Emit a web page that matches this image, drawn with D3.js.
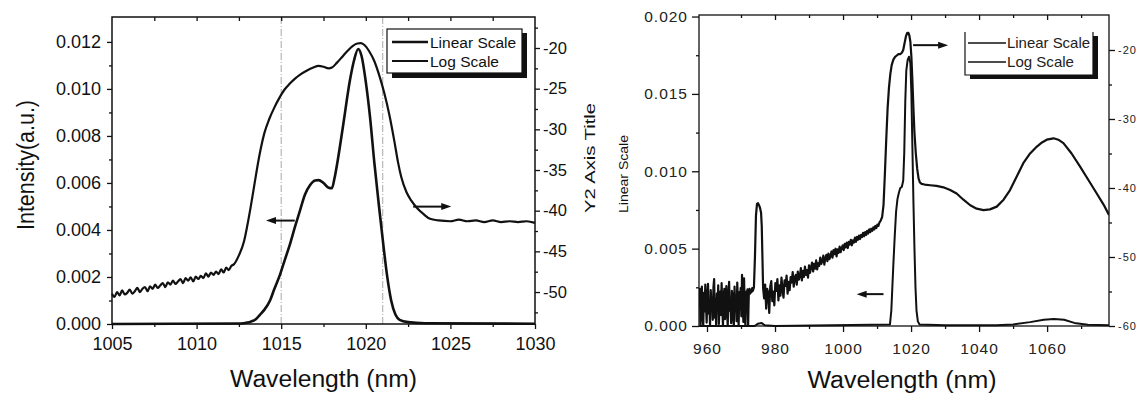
<!DOCTYPE html>
<html>
<head>
<meta charset="utf-8">
<script src="https://cdn.jsdelivr.net/npm/d3@7"></script>
<style>
body{margin:0;background:#fff}
svg{display:block}
</style>
</head>
<body>
<svg width="1138" height="396"></svg>
<script>
// ---- data (wavelength nm, value) ----

// left plot, linear intensity (left axis)
const leftLinear = [[1005,0],[1012.6,0.00002],[1013.0,0.00006],[1013.2,0.0001],[1013.5,0.0002],[1013.75,0.0004],
  [1014.0,0.0006],[1014.34,0.0010],[1014.6,0.0015],[1014.93,0.0021],[1015.2,0.0027],[1015.52,0.0034],[1015.8,0.0041],
  [1016.1,0.0048],[1016.4,0.0055],[1016.7,0.0059],[1017.0,0.0061],[1017.2,0.00612],[1017.5,0.0060],[1017.8,0.0058],
  [1018.0,0.00578],[1018.15,0.0062],[1018.35,0.0070],[1018.67,0.0085],[1019.07,0.0104],[1019.3,0.0112],[1019.55,0.0117],
  [1019.75,0.0114],[1020.0,0.0103],[1020.25,0.0088],[1020.5,0.0069],[1020.75,0.0052],[1021.0,0.0036],[1021.25,0.0021],
  [1021.5,0.0010],[1021.75,0.0004],[1022.0,0.00018],[1022.5,0.00008],[1023.5,0.00003],[1030,0.00001]];

// left plot, log scale (right axis, dB)
const leftLog = [[1005.0,-50.2],[1005.15,-50.6],[1005.3,-50.0],[1005.45,-50.4],[1005.6,-49.8],[1005.75,-50.3],
  [1005.9,-50.1],[1006.05,-49.7],[1006.2,-50.2],[1006.35,-49.9],[1006.5,-49.5],[1006.65,-50.0],[1006.8,-49.6],
  [1006.95,-49.4],[1007.1,-49.9],[1007.25,-49.3],[1007.4,-49.6],[1007.55,-49.1],[1007.7,-49.5],[1007.85,-49.2],
  [1008.0,-48.9],[1008.15,-49.4],[1008.3,-48.8],[1008.45,-49.1],[1008.6,-48.6],[1008.75,-49.0],[1008.9,-48.7],
  [1009.05,-48.4],[1009.2,-48.9],[1009.35,-48.3],[1009.5,-48.6],[1009.65,-48.2],[1009.8,-48.7],[1009.95,-48.1],
  [1010.1,-48.4],[1010.25,-48.0],[1010.4,-48.3],[1010.55,-47.7],[1010.7,-48.1],[1010.85,-47.6],[1011.0,-47.9],
  [1011.15,-47.5],[1011.3,-47.8],[1011.45,-47.2],[1011.6,-47.6],[1011.75,-47.0],[1011.9,-47.3],[1012.05,-46.8],
  [1012.2,-46.6],[1012.5,-45.5],[1012.8,-43.8],
  [1013.0,-41.8],[1013.2,-39.5],[1013.4,-37.0],[1013.6,-34.5],[1013.8,-32.3],[1014.0,-30.5],[1014.3,-28.7],[1014.6,-27.3],
  [1014.9,-26.1],[1015.2,-25.1],[1015.5,-24.4],[1015.8,-23.8],[1016.1,-23.3],[1016.5,-22.8],[1016.9,-22.4],[1017.2,-22.2],
  [1017.5,-22.3],[1017.8,-22.5],[1018.0,-22.4],[1018.3,-21.8],[1018.6,-21.1],[1018.9,-20.4],[1019.2,-19.8],[1019.5,-19.45],
  [1019.7,-19.4],[1019.9,-19.6],[1020.2,-20.4],[1020.5,-21.6],[1020.8,-23.4],[1021.1,-25.6],[1021.4,-28.3],[1021.7,-31.6],
  [1021.9,-34.0],[1022.1,-35.9],[1022.4,-37.7],[1022.7,-38.8],[1023.0,-39.6],[1023.4,-40.4],[1023.8,-41.0],[1024.3,-41.2],
  [1025.0,-41.3],[1025.5,-41.1],[1026.0,-41.3],[1026.5,-41.2],[1027.0,-41.4],[1027.5,-41.2],[1028.0,-41.4],[1028.5,-41.3],
  [1029.0,-41.4],[1029.5,-41.3],[1030.0,-41.5]];

// right plot, log scale (right axis, dB)
const rightLog = [
  [957.7,-57.2],[957.9,-54.6],[958.1,-59.8],[958.3,-56.1],[958.5,-54.3],[958.7,-58.7],[958.9,-60.0],[959.1,-55.2],
  [959.3,-57.9],[959.5,-54.0],[959.7,-56.8],[959.9,-59.5],[960.1,-55.7],[960.3,-53.9],[960.5,-58.2],[960.7,-56.4],
  [960.9,-60.0],[961.1,-54.8],[961.3,-57.0],[961.5,-55.9],[961.7,-59.1],[961.9,-54.4],[962.1,-53.2],[962.3,-58.8],
  [962.5,-56.0],[962.7,-60.0],[962.9,-55.3],[963.1,-57.6],[963.3,-54.1],[963.5,-59.7],[963.7,-56.6],[963.9,-55.0],
  [964.1,-58.4],[964.3,-53.8],[964.5,-57.3],[964.7,-60.0],[964.9,-55.8],[965.1,-54.6],[965.3,-59.0],[965.5,-56.9],
  [965.7,-54.2],[965.9,-58.0],[966.1,-60.0],[966.3,-55.5],[966.5,-53.6],[966.7,-57.8],[966.9,-56.3],[967.1,-59.6],
  [967.3,-54.9],[967.5,-55.4],[967.7,-58.9],[967.9,-60.0],[968.1,-54.3],[968.3,-57.1],[968.5,-55.6],[968.7,-59.3],
  [968.9,-53.7],[969.1,-56.7],[969.3,-60.0],[969.5,-55.1],[969.7,-57.5],[969.9,-54.5],[970.1,-58.6],[970.3,-52.6],
  [970.5,-56.2],[970.7,-59.4],[970.9,-53.1],[971.1,-58.1],[971.3,-60.0],[971.5,-55.0],[971.7,-57.4],[971.9,-54.7],
  [972.1,-59.9],[972.3,-55.2],[972.5,-54.6],[972.7,-55.3],[972.9,-54.8],[973.1,-55.1],[973.3,-54.5],[973.5,-54.9],
  [973.8,-54.4],[974.1,-50.0],[974.4,-44.0],[974.7,-42.3],[975.0,-42.2],[975.3,-42.5],[975.6,-42.9],[975.9,-43.6],
  [976.1,-45.5],[976.3,-50.0],[976.5,-54.5],
  [976.8,-56.0],[977.1,-54.0],[977.4,-57.5],[977.7,-54.6],[978.0,-55.2],[978.3,-58.1],[978.6,-54.3],[978.9,-53.5],
  [979.2,-56.4],[979.5,-55.0],[979.8,-57.0],[980.1,-53.8],[980.4,-54.9],[980.7,-53.2],[981.0,-56.3],[981.3,-54.1],
  [981.6,-55.6],[981.9,-53.0],[982.2,-54.7],[982.5,-55.9],[982.8,-53.4],[983.1,-54.2],[983.4,-52.7],[983.7,-55.3],
  [984.0,-53.6],[984.3,-54.8],[984.6,-52.9],[984.9,-53.7],[985.2,-52.2],[985.5,-54.3],[985.8,-53.0],[986.1,-52.6],
  [986.4,-54.0],[986.7,-52.1],[987.0,-53.3],[987.3,-52.8],[987.6,-51.6],[987.9,-53.4],[988.2,-52.0],[988.5,-52.9],
  [988.8,-51.4],[989.1,-52.6],[989.4,-51.9],[989.7,-53.0],[990.0,-51.2],[990.3,-52.3],[990.6,-51.5],[990.9,-50.8],
  [991.2,-52.1],[991.5,-51.0],[991.8,-51.7],[992.1,-50.5],[992.4,-51.8],[992.7,-50.9],[993.0,-51.3],[993.3,-50.1],
  [993.6,-51.0],[993.9,-50.6],[994.2,-49.8],[994.5,-51.1],[994.8,-50.2],[995.1,-49.7],[995.4,-50.6],[995.7,-49.5],
  [996.0,-50.3],[996.3,-49.9],[996.6,-49.2],[996.9,-50.1],[997.2,-49.0],[997.5,-49.6],[997.8,-48.8],[998.1,-49.9],
  [998.4,-48.9],[998.7,-49.4],[999.0,-48.5],[999.3,-49.3],[999.6,-48.7],[999.9,-48.3],[1000.2,-49.0],[1000.5,-48.1],
  [1000.8,-48.6],[1001.1,-47.9],[1001.4,-48.7],[1001.7,-47.8],[1002.0,-48.2],[1002.3,-47.5],[1002.6,-48.3],[1002.9,-47.6],
  [1003.2,-47.9],[1003.5,-47.2],[1003.8,-47.8],[1004.1,-47.1],[1004.4,-47.5],[1004.7,-46.9],[1005.0,-47.4],[1005.3,-46.8],
  [1005.6,-47.1],[1005.9,-46.5],[1006.2,-47.0],[1006.5,-46.4],[1006.8,-46.8],[1007.1,-46.2],[1007.4,-46.6],[1007.7,-46.0],
  [1008.0,-46.4],[1008.3,-45.9],[1008.6,-46.2],[1008.9,-45.7],[1009.2,-46.0],[1009.5,-45.5],[1009.8,-45.8],[1010.1,-45.3],
  [1010.4,-45.5],[1010.7,-45.0],[1011.0,-44.8],
  [1011.5,-44.2],[1011.9,-42.5],[1012.3,-38.0],[1012.7,-33.0],[1013.1,-28.5],
  [1013.5,-25.5],[1013.9,-23.5],[1014.3,-22.2],[1014.8,-21.4],[1015.3,-21.0],[1015.8,-20.8],[1016.3,-20.6],[1016.8,-20.6],
  [1017.3,-20.4],[1017.7,-20.0],[1018.1,-19.0],[1018.5,-18.0],[1018.9,-17.5],[1019.2,-17.5],[1019.5,-17.9],[1019.8,-18.8],
  [1020.1,-21.0],[1020.4,-24.5],[1020.7,-28.5],[1021.0,-32.0],[1021.4,-35.0],[1021.8,-37.2],[1022.2,-38.6],[1022.6,-39.2],
  [1023.1,-39.4],[1024.0,-39.5],[1025.6,-39.6],[1027.5,-39.7],[1029.5,-39.9],[1031.5,-40.3],[1033.4,-40.8],[1035.4,-41.7],
  [1037.4,-42.5],[1039.3,-43.0],[1041.3,-43.2],[1043.2,-43.1],[1045.2,-42.7],[1047.2,-41.7],[1049.1,-40.3],[1051.0,-38.4],
  [1053.0,-36.4],[1055.0,-35.0],[1057.0,-34.0],[1058.5,-33.4],[1059.9,-33.0],[1061.9,-32.8],[1063.3,-33.0],[1064.8,-33.5],
  [1067.2,-35.0],[1069.7,-36.9],[1072.1,-38.8],[1074.6,-40.8],[1076.6,-42.4],[1078.2,-43.9]];

// right plot, linear intensity (left axis)
const rightLinear = [[957.7,0],[974.0,0],[975.0,0.00015],[976.0,0.0002],[977.0,0.00005],[980.0,0],[1013.8,0.0001],
  [1014.2,0.0010],[1014.5,0.0025],[1014.8,0.0040],[1015.2,0.0058],[1015.6,0.0074],[1016.0,0.0082],[1016.4,0.0086],
  [1016.8,0.0089],[1017.3,0.0090],[1017.7,0.0094],[1018.0,0.0112],[1018.3,0.0145],[1018.6,0.0165],[1019.0,0.0172],
  [1019.4,0.0174],[1019.8,0.0170],[1020.1,0.0150],[1020.4,0.0115],[1020.7,0.0080],[1021.0,0.0050],[1021.3,0.0025],
  [1021.6,0.0010],[1022.0,0.0003],[1022.5,0.0001],[1030,0.00005],[1045,0.00005],[1050,0.0001],[1055,0.00025],
  [1059,0.0004],[1062,0.00045],[1065,0.0004],[1068,0.0002],[1072,0.00008],[1078.2,0.00005]];

const legendLabels = ['Linear Scale', 'Log Scale'];
const leftXTicks = [1005, 1010, 1015, 1020, 1025, 1030];
const leftYTicks = [0, 0.002, 0.004, 0.006, 0.008, 0.010, 0.012];
const leftY2Ticks = [-20, -25, -30, -35, -40, -45, -50];
const leftMarkers = [1015, 1021];
const rightXTicks = [960, 980, 1000, 1020, 1040, 1060];
const rightYTicks = [0, 0.005, 0.010, 0.015, 0.020];
const rightY2Ticks = [-20, -30, -40, -50, -60];

// ---- drawing ----
const svg = d3.select('svg');
const FONT = '"Liberation Sans", Arial, sans-serif';
const INK = '#111';

function ticks(axis, tr, values, size, fmt, pad, fs, extra) {
  const g = svg.append('g').attr('transform', tr)
    .call(axis.tickValues(values).tickSize(size).tickPadding(pad || 3).tickFormat(fmt || (() => '')));
  g.select('.domain').remove();
  g.selectAll('line').attr('stroke', INK).attr('stroke-width', 1.3);
  g.selectAll('text').attr('font-size', fs || 10).attr('font-family', FONT).attr('fill', INK);
  if (extra) extra(g);
  return g;
}

function curve(data, x, y, w) {
  svg.append('path').datum(data)
    .attr('fill', 'none').attr('stroke', INK).attr('stroke-width', w)
    .attr('stroke-linejoin', 'round')
    .attr('d', d3.line().x(d => x(d[0])).y(d => y(d[1])).curve(d3.curveMonotoneX));
}

function arrow(x1, x2, y) {
  const dir = Math.sign(x2 - x1);
  svg.append('line').attr('x1', x1).attr('x2', x2 - dir * 8).attr('y1', y).attr('y2', y)
    .attr('stroke', INK).attr('stroke-width', 2);
  svg.append('path').attr('fill', INK)
    .attr('d', `M${x2},${y} L${x2 - dir * 10},${y - 3.5} L${x2 - dir * 10},${y + 3.5} Z`);
}

function title(txt, x, y, fs, len, rot) {
  svg.append('text').attr('transform', `translate(${x},${y})` + (rot ? ' rotate(-90)' : ''))
    .attr('text-anchor', 'middle').attr('font-family', FONT).attr('font-size', fs).attr('fill', INK)
    .attr('textLength', len).attr('lengthAdjust', 'spacingAndGlyphs').text(txt);
}

// ===== left plot =====
const xL = d3.scaleLinear().domain([1005, 1030]).range([112, 535]);
const yL = d3.scaleLinear().domain([0, 0.01306]).range([324, 17]);
const yL2 = d3.scaleLinear().domain([-53.93, -16.19]).range([324, 17]);

leftMarkers.forEach(m => {
  svg.append('line').attr('x1', xL(m)).attr('x2', xL(m)).attr('y1', 17).attr('y2', 324)
    .attr('stroke', '#a8a8a8').attr('stroke-width', 1).attr('stroke-dasharray', '7,2,1,2');
});

curve(leftLog, xL, yL2, 2.2);
curve(leftLinear, xL, yL, 2.6);

svg.append('rect').attr('x', 112).attr('y', 17).attr('width', 423).attr('height', 307)
  .attr('fill', 'none').attr('stroke', INK).attr('stroke-width', 1.5);

ticks(d3.axisBottom(xL), 'translate(0,324)', leftXTicks, 5, d3.format('d'), 8, 18);
ticks(d3.axisBottom(xL), 'translate(0,324)', [1007.5, 1012.5, 1017.5, 1022.5, 1027.5], 3);
ticks(d3.axisTop(xL), 'translate(0,17)', [1007.5, 1010, 1012.5, 1015, 1017.5, 1020, 1022.5, 1025, 1027.5], -4);
ticks(d3.axisLeft(yL), 'translate(112,0)', leftYTicks, 5, d3.format('.3f'), 6, 18);
ticks(d3.axisLeft(yL), 'translate(112,0)', [0.001, 0.003, 0.005, 0.007, 0.009, 0.011], 3);
ticks(d3.axisRight(yL2), 'translate(535,0)', leftY2Ticks, 5, d => String(d), 3, 16.5);
ticks(d3.axisRight(yL2), 'translate(535,0)', [-17.5, -22.5, -27.5, -32.5, -37.5, -42.5, -47.5, -52.5], 3);

arrow(xL(1015.8), xL(1014.1), yL(0.0044));
arrow(xL(1022.8), xL(1025.05), yL2(-39.5));

// legend
svg.append('rect').attr('x', 392).attr('y', 33).attr('width', 135).attr('height', 45).attr('fill', INK);
svg.append('rect').attr('x', 387).attr('y', 29).attr('width', 135).attr('height', 44)
  .attr('fill', '#fff').attr('stroke', INK).attr('stroke-width', 1.2);
legendLabels.forEach((lab, i) => {
  const y = 42 + i * 19;
  svg.append('line').attr('x1', 392).attr('x2', 428).attr('y1', y).attr('y2', y)
    .attr('stroke', INK).attr('stroke-width', i === 0 ? 2.6 : 2);
  svg.append('text').attr('x', 430).attr('y', y + 5.5).attr('font-family', FONT)
    .attr('font-size', 15.5).attr('fill', INK).text(lab);
});

title('Intensity(a.u.)', 34, 165, 23, 130, true);
title('Y2 Axis Title', 595, 158, 14, 110, true);
title('Wavelength (nm)', 323.5, 387, 23, 187, false);

// ===== right plot =====
const xR = d3.scaleLinear().domain([957.65, 1078.2]).range([699, 1109]);
const yR = d3.scaleLinear().domain([0, 0.0201]).range([326, 15]);
const yR2 = d3.scaleLinear().domain([-60, -14.93]).range([326, 15]);

svg.append('clipPath').attr('id', 'cr').append('rect')
  .attr('x', 699).attr('y', 15).attr('width', 410).attr('height', 312);

const gR = svg.append('g').attr('clip-path', 'url(#cr)');
[[rightLog, yR2, 2.2], [rightLinear, yR, 2]].forEach(([data, y, w]) => {
  gR.append('path').datum(data)
    .attr('fill', 'none').attr('stroke', INK).attr('stroke-width', w).attr('stroke-linejoin', 'round')
    .attr('d', d3.line().x(d => xR(d[0])).y(d => y(d[1])));
});

svg.append('rect').attr('x', 699).attr('y', 15).attr('width', 410).attr('height', 311)
  .attr('fill', 'none').attr('stroke', INK).attr('stroke-width', 1.3);

const spaced = g => g.selectAll('text').attr('letter-spacing', 1).attr('fill', '#222');
ticks(d3.axisBottom(xR), 'translate(0,326)', rightXTicks, 6, d3.format('d'), 11, 15.5, spaced);
ticks(d3.axisBottom(xR), 'translate(0,326)', [970, 990, 1010, 1030, 1050, 1070], 3);
ticks(d3.axisTop(xR), 'translate(0,15)', [980, 1000, 1020, 1040, 1060], -5);
ticks(d3.axisTop(xR), 'translate(0,15)', [970, 990, 1010, 1030, 1050, 1070], -3);
ticks(d3.axisLeft(yR), 'translate(699,0)', rightYTicks, 7, d3.format('.3f'), 4, 15.5, spaced);
ticks(d3.axisLeft(yR), 'translate(699,0)', [0.0025, 0.0075, 0.0125, 0.0175], 3);
ticks(d3.axisRight(yR2), 'translate(1109,0)', rightY2Ticks, 6, d => String(d), 3, 11, spaced);
ticks(d3.axisRight(yR2), 'translate(1109,0)', [-25, -35, -45, -55], 3);

arrow(xR(1020.6), xR(1030.9), yR2(-19.3));
arrow(xR(1011.9), xR(1004.0), yR(0.00206));

// legend (no top border)
svg.append('rect').attr('x', 970).attr('y', 36).attr('width', 128).attr('height', 43).attr('fill', INK);
svg.append('rect').attr('x', 965).attr('y', 32).attr('width', 128).attr('height', 43).attr('fill', '#fff');
svg.append('path').attr('d', 'M965,32 V75 H1093 V32').attr('fill', 'none')
  .attr('stroke', INK).attr('stroke-width', 1.2);
legendLabels.forEach((lab, i) => {
  const y = 43 + i * 19;
  svg.append('line').attr('x1', 968).attr('x2', 1006).attr('y1', y).attr('y2', y)
    .attr('stroke', INK).attr('stroke-width', 1.6);
  svg.append('text').attr('x', 1007).attr('y', y + 5).attr('font-family', FONT)
    .attr('font-size', 14.5).attr('fill', '#222')
    .attr('textLength', i === 0 ? 83 : 67).attr('lengthAdjust', 'spacingAndGlyphs').text(lab);
});

title('Linear Scale', 628, 174, 13, 78, true);
title('Wavelength (nm)', 902, 388, 23, 189, false);
</script>
</body>
</html>
